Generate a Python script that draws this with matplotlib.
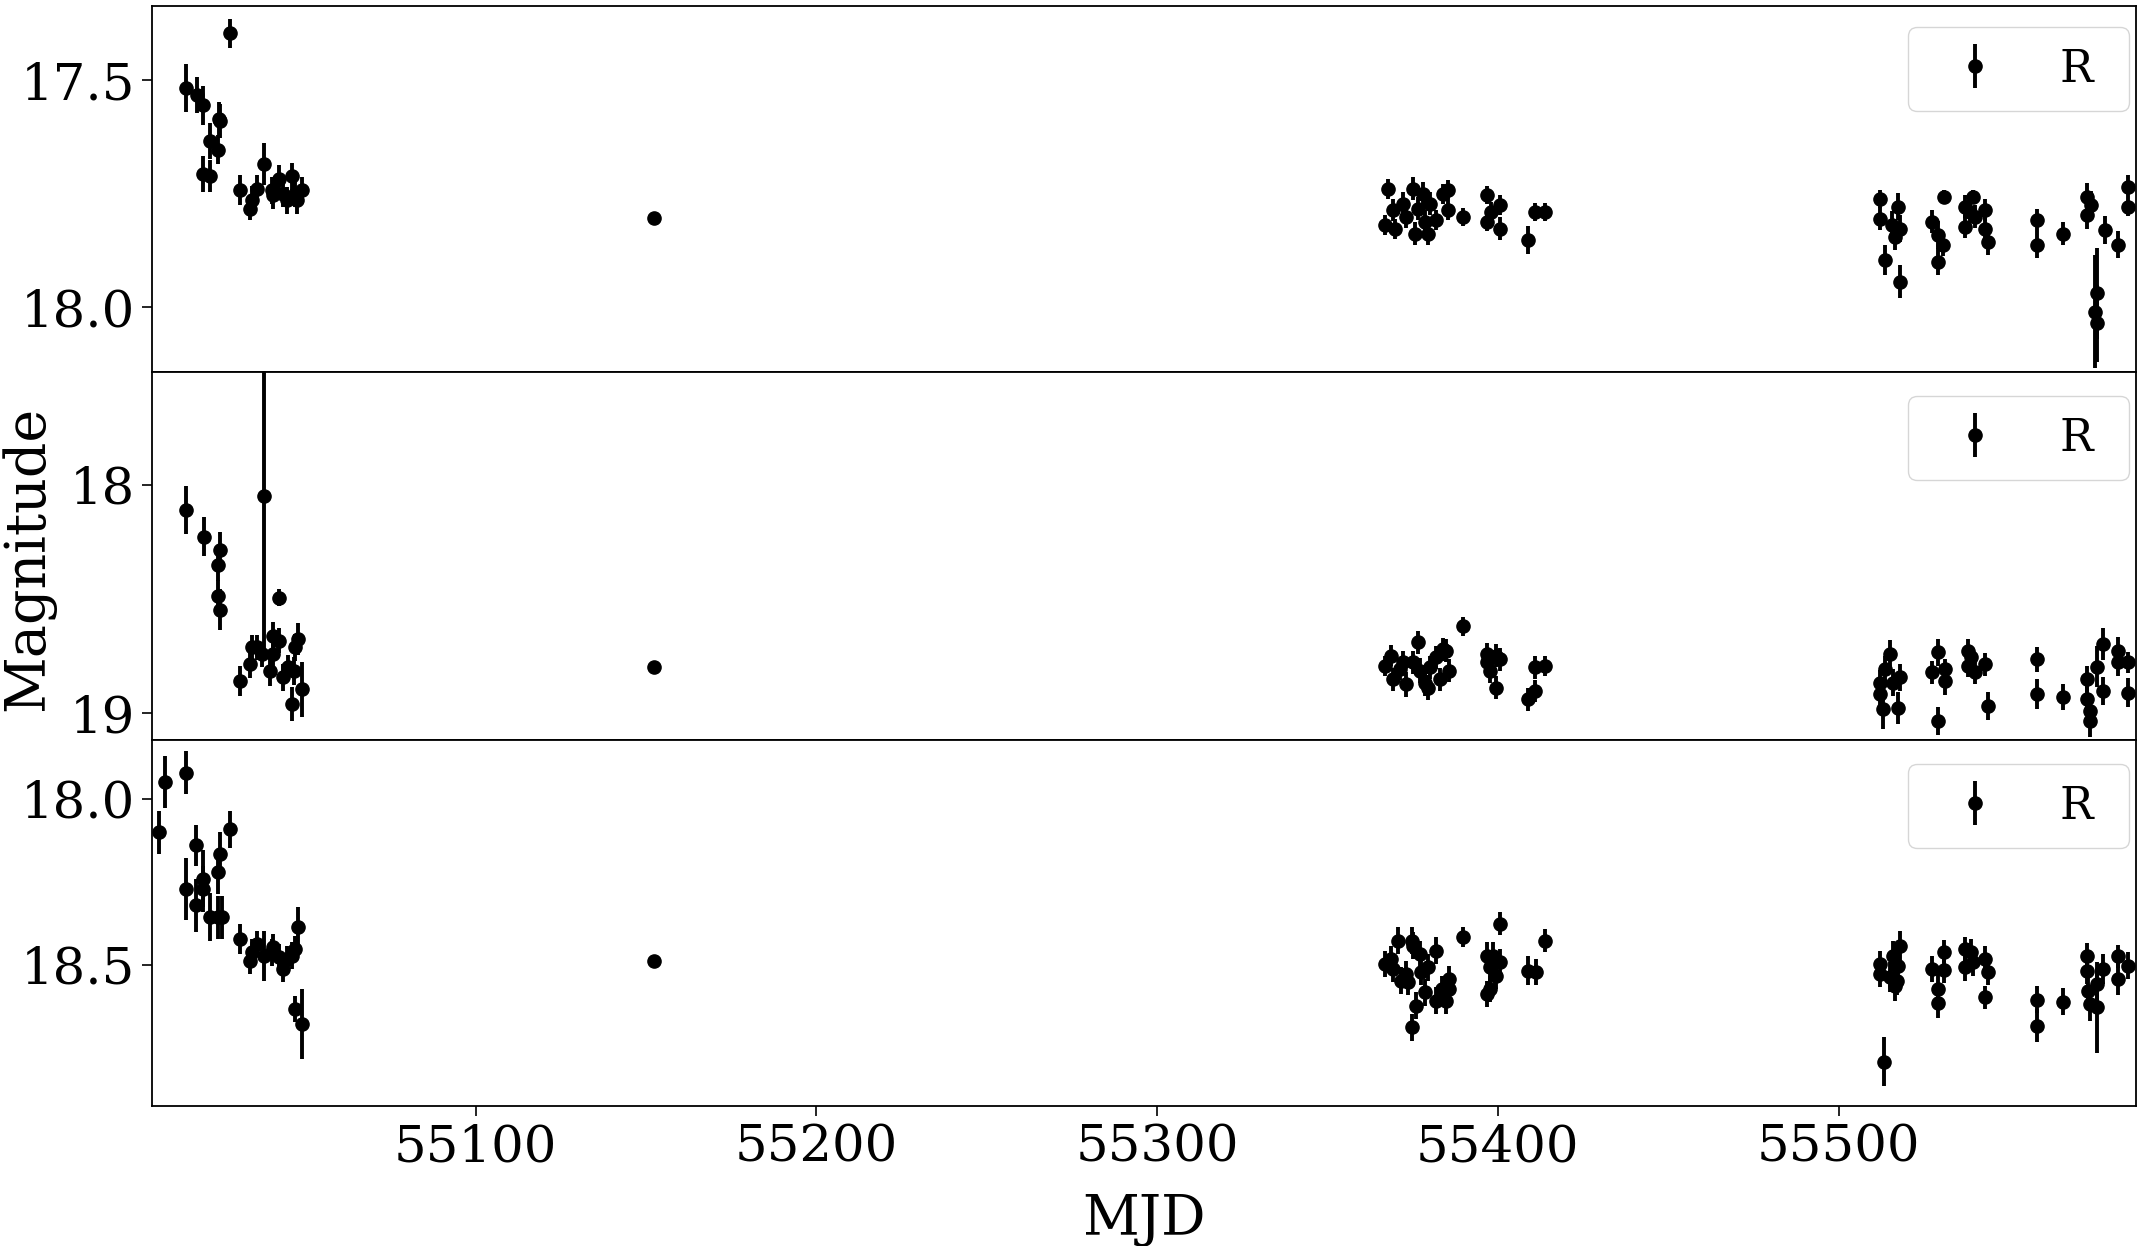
import matplotlib
matplotlib.use("Agg")
import matplotlib.pyplot as plt
import numpy as np

plt.rcParams['font.family'] = ['DejaVu Serif']
plt.rcParams['mathtext.fontset'] = 'dejavuserif'

# ---------------- Panel 1 ----------------
mjd1 = [55028.0, 55015.1, 55018.2, 55020.0, 55024.6, 55025.1, 55022.1, 55024.3, 55020.0, 55022.1,
        55038.0, 55030.9, 55033.9, 55034.4, 55035.8, 55040.2, 55040.7, 55042.2, 55043.6, 55044.6,
        55046.1, 55047.1, 55047.6, 55049.0,
        55152.5,
        55367.8, 55366.8, 55369.8, 55369.3, 55372.2, 55373.2, 55375.1, 55375.6, 55376.6, 55378.1,
        55378.6, 55379.5, 55380.0, 55382.0, 55383.9, 55385.4, 55385.4, 55389.8, 55396.7, 55396.7,
        55398.1, 55400.6, 55400.6, 55408.9, 55410.8, 55413.8,
        55512.1, 55512.1, 55513.6, 55515.6, 55516.5, 55517.5, 55518.0, 55518.0, 55527.3, 55529.3,
        55529.3, 55530.7, 55530.9, 55537.1, 55537.1, 55538.5, 55539.5, 55540.0, 55543.0, 55543.0,
        55543.9, 55558.1, 55558.1, 55565.9, 55572.8, 55572.8, 55574.2, 55575.2, 55575.7, 55575.9,
        55578.2, 55582.1, 55585.0, 55585.0]
mag1 = [17.397, 17.518, 17.533, 17.555, 17.585, 17.590, 17.634, 17.653, 17.707, 17.711,
        17.685, 17.743, 17.783, 17.764, 17.739, 17.743, 17.754, 17.717, 17.750, 17.765,
        17.712, 17.750, 17.765, 17.743,
        17.803,
        17.739, 17.819, 17.827, 17.786, 17.772, 17.801, 17.739, 17.838, 17.783, 17.750,
        17.812, 17.838, 17.772, 17.808, 17.750, 17.742, 17.786, 17.801, 17.753, 17.812,
        17.790, 17.775, 17.827, 17.852, 17.790, 17.790,
        17.761, 17.805, 17.897, 17.819, 17.845, 17.779, 17.827, 17.944, 17.812, 17.841,
        17.900, 17.863, 17.758, 17.779, 17.823, 17.790, 17.757, 17.801, 17.786, 17.827,
        17.856, 17.808, 17.863, 17.838, 17.757, 17.797, 17.775, 18.010, 17.970, 18.036,
        17.830, 17.863, 17.735, 17.779]
err1 = [0.032, 0.053, 0.039, 0.043, 0.037, 0.037, 0.040, 0.032, 0.040, 0.035,
        0.046, 0.033, 0.026, 0.030, 0.030, 0.030, 0.030, 0.030, 0.030, 0.030,
        0.030, 0.030, 0.030, 0.030,
        0.010,
        0.022, 0.022, 0.022, 0.025, 0.025, 0.025, 0.025, 0.025, 0.025, 0.025,
        0.025, 0.025, 0.025, 0.022, 0.022, 0.022, 0.022, 0.020, 0.020, 0.020,
        0.022, 0.022, 0.025, 0.030, 0.020, 0.020,
        0.020, 0.025, 0.033, 0.030, 0.030, 0.030, 0.030, 0.037, 0.025, 0.030,
        0.030, 0.025, 0.015, 0.025, 0.025, 0.025, 0.015, 0.025, 0.025, 0.030,
        0.030, 0.025, 0.030, 0.025, 0.030, 0.030, 0.030, 0.125, 0.100, 0.085,
        0.030, 0.030, 0.025, 0.020]

# ---------------- Panel 2 ----------------
mjd2 = [55015.1, 55020.2, 55025.1, 55024.3, 55024.3, 55025.1, 55038.0, 55042.2, 55030.9, 55033.9,
        55034.4, 55035.8, 55037.3, 55039.7, 55040.7, 55042.2, 55040.7, 55043.6, 55045.1, 55046.1,
        55046.6, 55047.1, 55048.0, 55049.0,
        55152.5,
        55366.8, 55368.8, 55369.3, 55371.2, 55372.2, 55373.2, 55375.1, 55376.6, 55377.1, 55378.6,
        55379.5, 55380.0, 55382.0, 55383.9, 55384.9, 55385.7, 55383.0, 55389.8, 55396.7, 55396.7,
        55397.6, 55399.6, 55400.6, 55399.6, 55408.9, 55410.8, 55410.8, 55413.8,
        55512.1, 55512.1, 55513.1, 55513.6, 55515.1, 55516.0, 55517.5, 55518.0, 55527.3, 55529.3,
        55529.3, 55531.2, 55531.2, 55538.1, 55538.1, 55539.0, 55540.0, 55543.0, 55543.9, 55558.1,
        55558.1, 55565.9, 55572.8, 55572.8, 55573.8, 55573.8, 55575.7, 55577.7, 55577.7, 55582.1,
        55582.1, 55585.0, 55585.0]
mag2 = [18.110, 18.227, 18.286, 18.352, 18.487, 18.546, 18.048, 18.494, 18.858, 18.785,
        18.711, 18.711, 18.741, 18.814, 18.660, 18.682, 18.741, 18.843, 18.799, 18.960,
        18.814, 18.711, 18.675, 18.895,
        18.799,
        18.792, 18.748, 18.850, 18.806, 18.777, 18.872, 18.777, 18.689, 18.814, 18.865,
        18.887, 18.799, 18.755, 18.719, 18.726, 18.814, 18.850, 18.620, 18.741, 18.777,
        18.814, 18.748, 18.763, 18.887, 18.938, 18.902, 18.799, 18.792,
        18.865, 18.916, 18.982, 18.807, 18.741, 18.865, 18.975, 18.843, 18.821, 18.733,
        19.034, 18.807, 18.858, 18.726, 18.792, 18.755, 18.821, 18.785, 18.968, 18.763,
        18.916, 18.928, 18.850, 18.938, 18.990, 19.034, 18.796, 18.697, 18.902, 18.726,
        18.777, 18.777, 18.909]
err2 = [0.105, 0.087, 0.080, 0.070, 0.070, 0.090, 0.720, 0.037, 0.066, 0.060,
        0.055, 0.055, 0.055, 0.066, 0.060, 0.055, 0.055, 0.060, 0.055, 0.075,
        0.060, 0.060, 0.070, 0.120,
        0.020,
        0.045, 0.045, 0.050, 0.050, 0.050, 0.055, 0.050, 0.050, 0.055, 0.060,
        0.055, 0.050, 0.050, 0.050, 0.050, 0.050, 0.050, 0.040, 0.050, 0.050,
        0.055, 0.050, 0.050, 0.050, 0.050, 0.050, 0.050, 0.045,
        0.055, 0.060, 0.085, 0.060, 0.060, 0.060, 0.070, 0.060, 0.050, 0.060,
        0.060, 0.045, 0.060, 0.050, 0.050, 0.050, 0.050, 0.050, 0.060, 0.055,
        0.065, 0.055, 0.055, 0.060, 0.060, 0.070, 0.090, 0.070, 0.060, 0.060,
        0.060, 0.045, 0.065]

# ---------------- Panel 3 ----------------
mjd3 = [55007.2, 55008.9, 55015.1, 55015.1, 55018.1, 55018.1, 55020.0, 55020.0, 55022.1, 55024.3,
        55025.1, 55024.3, 55025.6, 55028.0, 55030.9, 55033.9, 55034.4, 55035.8, 55038.0, 55040.2,
        55040.7, 55042.2, 55043.6, 55044.6, 55046.1, 55047.1, 55048.0, 55047.1, 55049.0,
        55152.5,
        55366.8, 55368.8, 55369.3, 55370.7, 55371.7, 55373.2, 55373.7, 55374.7, 55375.1, 55374.7,
        55376.1, 55377.1, 55377.6, 55378.6, 55379.5, 55382.0, 55382.0, 55383.5, 55384.9, 55385.7,
        55385.7, 55389.8, 55396.7, 55396.7, 55397.6, 55398.6, 55399.6, 55400.6, 55400.6, 55397.6,
        55408.9, 55411.3, 55413.8,
        55512.1, 55512.1, 55513.4, 55515.1, 55516.0, 55516.5, 55517.5, 55518.0, 55517.2, 55527.3,
        55529.3, 55529.3, 55530.9, 55530.9, 55537.1, 55537.1, 55539.0, 55539.5, 55543.0, 55543.9,
        55543.0, 55558.1, 55558.1, 55565.9, 55572.8, 55572.8, 55573.3, 55573.8, 55575.7, 55575.7,
        55577.7, 55582.1, 55582.1, 55585.0]
mag3 = [18.101, 17.950, 17.922, 18.272, 18.141, 18.322, 18.241, 18.272, 18.357, 18.221,
        18.166, 18.357, 18.357, 18.093, 18.423, 18.488, 18.463, 18.438, 18.473, 18.463,
        18.448, 18.478, 18.513, 18.483, 18.473, 18.453, 18.387, 18.634, 18.679,
        18.488,
        18.498, 18.483, 18.513, 18.428, 18.548, 18.528, 18.553, 18.428, 18.443, 18.689,
        18.624, 18.468, 18.523, 18.584, 18.508, 18.458, 18.609, 18.574, 18.609, 18.543,
        18.574, 18.416, 18.473, 18.589, 18.508, 18.473, 18.533, 18.493, 18.377, 18.574,
        18.518, 18.523, 18.428,
        18.498, 18.528, 18.792, 18.538, 18.473, 18.564, 18.503, 18.443, 18.548, 18.513,
        18.574, 18.616, 18.461, 18.515, 18.453, 18.508, 18.463, 18.493, 18.483, 18.521,
        18.599, 18.606, 18.684, 18.612, 18.475, 18.518, 18.579, 18.619, 18.559, 18.629,
        18.513, 18.475, 18.543, 18.503]
err3 = [0.065, 0.078, 0.065, 0.093, 0.061, 0.080, 0.085, 0.070, 0.073, 0.065,
        0.065, 0.065, 0.065, 0.055, 0.045, 0.040, 0.040, 0.040, 0.075, 0.040,
        0.040, 0.040, 0.040, 0.040, 0.040, 0.040, 0.060, 0.040, 0.105,
        0.012,
        0.040, 0.040, 0.040, 0.040, 0.040, 0.040, 0.040, 0.040, 0.040, 0.040,
        0.040, 0.040, 0.040, 0.040, 0.040, 0.040, 0.040, 0.040, 0.040, 0.040,
        0.040, 0.030, 0.040, 0.040, 0.040, 0.040, 0.040, 0.040, 0.035, 0.040,
        0.045, 0.040, 0.035,
        0.040, 0.040, 0.073, 0.045, 0.045, 0.045, 0.045, 0.045, 0.045, 0.040,
        0.045, 0.045, 0.035, 0.040, 0.035, 0.040, 0.040, 0.040, 0.040, 0.040,
        0.035, 0.040, 0.050, 0.040, 0.040, 0.040, 0.045, 0.050, 0.050, 0.138,
        0.045, 0.035, 0.050, 0.040]

band_label = "R"
x_ticks = [55100, 55200, 55300, 55400, 55500]
y_ticks = [[17.5, 18.0], [18, 19], [18.0, 18.5]]
y_limits = [(18.142, 17.336), (19.114, 17.506), (18.926, 17.822)]
x_limits = (55005.0, 55587.2)

panels = [(mjd1, mag1, err1), (mjd2, mag2, err2), (mjd3, mag3, err3)]
legend_tops = [0.9418, 0.933, 0.933]

W, H = 2142, 1246
fig = plt.figure(figsize=(W / 100, H / 100), dpi=100)
left, right = 151.8 / W, 2135.7 / W
bounds = [5.7, 371.5, 739.5, 1106.0]
axes = []
for i in range(3):
    top_px, bot_px = bounds[i], bounds[i + 1]
    rect = [left, 1 - bot_px / H, right - left, (bot_px - top_px) / H]
    ax = fig.add_axes(rect, sharex=axes[0] if axes else None)
    axes.append(ax)

# legend box left edge in axes fraction (reference box starts at x=1908 px)
leg_left = (1908 - 151.8) / (2135.7 - 151.8)

for i, (ax, (t, m, e)) in enumerate(zip(axes, panels)):
    ax.errorbar(t, m, yerr=e, fmt='o', color='k', ms=9.5, elinewidth=2.8,
                capsize=0, label=band_label + " ")
    ax.set_ylim(*y_limits[i])
    ax.set_yticks(y_ticks[i])
    ax.tick_params(axis='both', labelsize=37, length=7, width=1.2, pad=5)
    for s in ax.spines.values():
        s.set_linewidth(1.3)
    ax.legend(loc='upper left', bbox_to_anchor=(leg_left, legend_tops[i]),
              borderaxespad=0, fontsize=32, handlelength=2.1,
              handletextpad=0.87, borderpad=0.46)
    if i < 2:
        ax.tick_params(axis='x', labelbottom=False)

axes[0].set_xlim(*x_limits)
axes[2].set_xticks(x_ticks)
axes[2].set_xlabel("MJD", fontsize=40, labelpad=14)
fig.text(27.5 / W, 1 - 558 / H, "Magnitude", rotation=90, fontsize=40,
         ha='center', va='center')

fig.savefig("out.png", dpi=100)
